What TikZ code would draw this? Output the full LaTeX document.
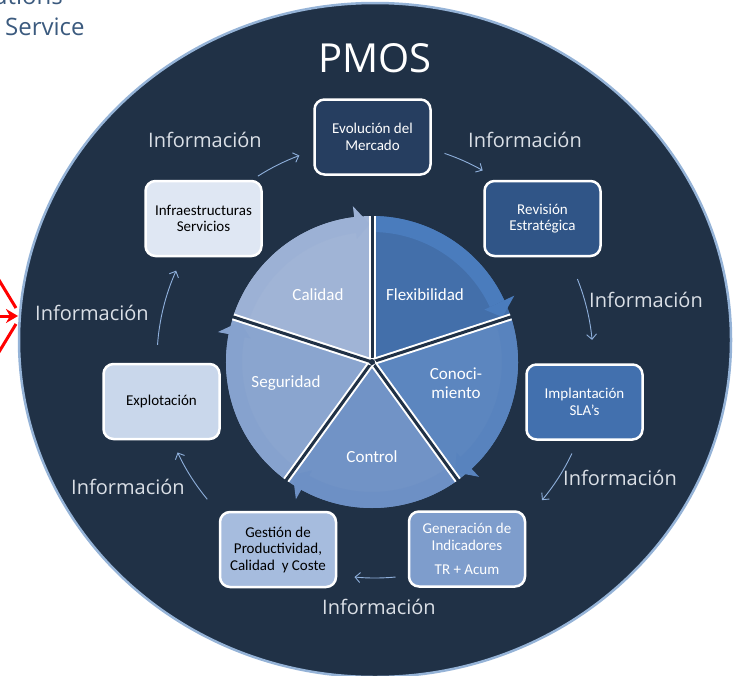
\documentclass[tikz,border=0pt]{standalone}
\usepackage{fontspec}
\setmainfont{Carlito}
\newfontfamily\osans{Open Sans}
\usetikzlibrary{arrows.meta,calc}
\definecolor{navy}{RGB}{32,49,70}
\definecolor{rim}{RGB}{149,179,215}
\definecolor{bxA}{RGB}{38,62,96}
\definecolor{bxB}{RGB}{48,85,135}
\definecolor{bxC}{RGB}{66,112,174}
\definecolor{bxD}{RGB}{126,157,204}
\definecolor{bxE}{RGB}{166,188,222}
\definecolor{bxF}{RGB}{201,215,235}
\definecolor{bxG}{RGB}{223,231,243}
\definecolor{calC}{RGB}{160,180,214}
\definecolor{calB}{RGB}{156,177,213}
\definecolor{flxC}{RGB}{67,111,170}
\definecolor{flxB}{RGB}{74,124,189}
\definecolor{conC}{RGB}{92,134,191}
\definecolor{conB}{RGB}{88,131,190}
\definecolor{ctlC}{RGB}{113,147,198}
\definecolor{ctlB}{RGB}{109,144,197}
\definecolor{segC}{RGB}{138,165,207}
\definecolor{segB}{RGB}{134,162,206}
\definecolor{infoc}{RGB}{218,223,230}
\definecolor{arrc}{RGB}{143,176,220}
\definecolor{titc}{RGB}{59,90,126}
\begin{document}
\begin{tikzpicture}[x=1pt,y=-1pt,
  box/.style={draw=white, line width=2.5pt, rounded corners=10pt,
    minimum width=116pt, minimum height=75pt, align=center,
    font=\fontsize{15}{16.5}\selectfont, inner sep=2pt},
  info/.style={text=infoc, font=\osans\fontsize{20}{24}\selectfont, inner sep=0pt},
  pielbl/.style={text=white, font=\fontsize{17}{20}\selectfont, align=center, inner sep=0pt},
  infarrow/.style={draw=arrc, line width=0.9pt, -{Straight Barb[length=5pt,width=10pt]}}]
\useasboundingbox (0,0) rectangle (735,675);
\clip (0,0) rectangle (735,675);

% top-left text
\node[anchor=base east, text=titc, font=\osans\fontsize{24}{28}\selectfont, inner sep=0pt] (t1) at (63,4) {utions};
\node[anchor=base west, text=titc, font=\osans\fontsize{24}{28}\selectfont, inner sep=0pt] (t2) at (5,35) {Service};

% red arrows
\coordinate (rtip) at (18,316);
\draw[red, line width=3pt] (-12,262) -- (16,308);
\draw[red, line width=3pt] (-12,370) -- (16,324);
\draw[red, line width=3pt, -{Stealth[length=12pt,width=14pt]}] (-5,316) -- (rtip);

% big ellipse
\fill[navy, draw=rim, line width=2.5pt] (375,340) ellipse [x radius=356, y radius=337];

\node[text=white, font=\osans\fontsize{40}{44}\selectfont, inner sep=0pt] (pmos) at (375,58) {PMOS};

% pie
\coordinate (pc) at (372,362);
\foreach \sa/\sb/\col/\bcol in {-162/-90/calC/calB,-90/-18/flxC/flxB,-18/54/conC/conB,54/126/ctlC/ctlB,126/198/segC/segB}{
  \fill[\col] (pc) -- ($(pc)+(\sa:146)$) arc[start angle=\sa, end angle=\sb, radius=146] -- cycle;
  \fill[\bcol] ($(pc)+(\sa:146)$) arc[start angle=\sa, end angle={\sb-7}, radius=146]
     -- ($(pc)+({\sb-7}:130)$) arc[start angle={\sb-7}, end angle=\sa, radius=130] -- cycle;
  \fill[\bcol] ($(pc)+({\sb-7}:157)$) -- ($(pc)+({\sb-1}:138)$) -- ($(pc)+({\sb-7}:124)$) -- cycle;
}
\foreach \b in {-90,-18,54,126,198}{
  \draw[white, line width=7pt] (pc) -- ($(pc)+(\b:146)$);
  \draw[navy, line width=3pt] (pc) -- ($(pc)+(\b:160)$);
}
\fill[navy] (pc) circle[radius=3];

\node[pielbl] (l1) at (318,295) {Calidad};
\node[pielbl] (l2) at (425,295) {Flexibilidad};
\node[pielbl] (l3) at (456,383) {Conoci-\\[-1pt]miento};
\node[pielbl] (l4) at (372,457) {Control};
\node[pielbl] (l5) at (286,383) {Seguridad};

% boxes
\node[box, fill=bxA, text=white] (b1) at (372.5,137) {Evolución del\\Mercado};
\node[box, fill=bxB, text=white] (b2) at (542.5,218.5) {Revisión\\Estratégica};
\node[box, fill=bxC, text=white] (b3) at (584.5,402) {Implantación\\SLA’s};
\node[box, fill=bxD, text=white] (b4) at (467,549) {Generación de\\Indicadores\\[8pt]TR + Acum};
\node[box, fill=bxE, text=black] (b5) at (278,549.5) {Gestión de\\Productividad,\\Calidad~~y Coste};
\node[box, fill=bxF, text=black] (b6) at (161.5,401.5) {Explotación};
\node[box, fill=bxG, text=black] (b7) at (203.5,218.5) {Infraestructuras\\Servicios};

% info labels
\node[info] (i1) at (205,140) {Información};
\node[info] (i2) at (525,140) {Información};
\node[info] (i3) at (646,300) {Información};
\node[info] (i4) at (92,313) {Información};
\node[info] (i5) at (620,478) {Información};
\node[info] (i6) at (128,487) {Información};
\node[info] (i7) at (379,607) {Información};

% cycle arrows (arcs about a common centre)
\coordinate (ac) at (375,360);
\foreach \p/\q in {-122.5/-110.3,-71.4/-60.4,-21.8/-5.3,25.4/40,84.6/95.4,140.3/154.9,184/204.2}{
  \coordinate (as) at ($(ac)+(\p:218)$);
  \draw[infarrow] (as) arc[start angle=\p, end angle=\q, radius=218];
}
\end{tikzpicture}
\end{document}
